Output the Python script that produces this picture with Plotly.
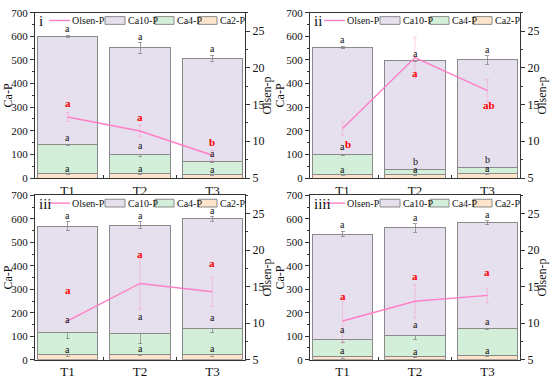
import plotly.graph_objects as go

categories = ["T1", "T2", "T3"]
panel_names = ["i", "ii", "iii", "iiii"]

# ---- panel i ----
ca2_i = [18, 17, 15]
ca4_i = [124, 83, 55]
ca10_i = [458, 451, 437]
olsen_i = [13.3, 11.4, 8.1]
ca2_err_i = [3, 3, 3]
ca4_err_i = [4, 10, 5]
ca10_err_i = [4, 22, 12]
olsen_err_i = [0.6, 0.8, 0.7]
ca2_let_i = ["a", "a", "a"]
ca4_let_i = ["a", "a", "a"]
ca10_let_i = ["a", "a", "a"]
olsen_let_i = ["a", "a", "b"]
olsen_let_y_i = [15.2, 13.3, 9.95]

# ---- panel ii ----
ca2_ii = [15, 15, 18]
ca4_ii = [85, 22, 27]
ca10_ii = [453, 459, 455]
olsen_ii = [11.75, 21.4, 16.9]
ca2_err_ii = [3, 3, 3]
ca4_err_ii = [6, 4, 4]
ca10_err_ii = [5, 3, 18]
olsen_err_ii = [0.9, 2.8, 1.5]
ca2_let_ii = ["a", "a", "a"]
ca4_let_ii = ["a", "b", "b"]
ca10_let_ii = ["a", "a", "a"]
olsen_let_ii = ["b", "a", "ab"]
olsen_let_y_ii = [9.65, 19.35, 14.9]

# ---- panel iii ----
ca2_iii = [20, 23, 22]
ca4_iii = [97, 89, 112]
ca10_iii = [452, 461, 466]
olsen_iii = [10.33, 15.44, 14.3]
ca2_err_iii = [5, 5, 8]
ca4_err_iii = [27, 45, 20]
ca10_err_iii = [18, 15, 10]
olsen_err_iii = [0.3, 3.5, 2.0]
ca2_let_iii = ["a", "a", "a"]
ca4_let_iii = ["a", "a", "a"]
ca10_let_iii = ["a", "a", "a"]
olsen_let_iii = ["a", "a", "a"]
olsen_let_y_iii = [14.5, 19.5, 18.3]

# ---- panel iiii ----
ca2_iv = [12, 13, 17]
ca4_iv = [76, 91, 115]
ca10_iv = [447, 458, 451]
olsen_iv = [10.3, 13.0, 13.8]
ca2_err_iv = [7, 4, 4]
ca4_err_iv = [13, 20, 5]
ca10_err_iv = [12, 18, 8]
olsen_err_iv = [3.0, 2.3, 1.0]
ca2_let_iv = ["a", "a", "a"]
ca4_let_iv = ["a", "a", "a"]
ca10_let_iv = ["a", "a", "a"]
olsen_let_iv = ["a", "a", "a"]
olsen_let_y_iv = [13.7, 16.4, 17.05]

panels = [
    (ca2_i, ca4_i, ca10_i, olsen_i, ca2_err_i, ca4_err_i, ca10_err_i, olsen_err_i,
     ca2_let_i, ca4_let_i, ca10_let_i, olsen_let_i, olsen_let_y_i),
    (ca2_ii, ca4_ii, ca10_ii, olsen_ii, ca2_err_ii, ca4_err_ii, ca10_err_ii, olsen_err_ii,
     ca2_let_ii, ca4_let_ii, ca10_let_ii, olsen_let_ii, olsen_let_y_ii),
    (ca2_iii, ca4_iii, ca10_iii, olsen_iii, ca2_err_iii, ca4_err_iii, ca10_err_iii, olsen_err_iii,
     ca2_let_iii, ca4_let_iii, ca10_let_iii, olsen_let_iii, olsen_let_y_iii),
    (ca2_iv, ca4_iv, ca10_iv, olsen_iv, ca2_err_iv, ca4_err_iv, ca10_err_iv, olsen_err_iv,
     ca2_let_iv, ca4_let_iv, ca10_let_iv, olsen_let_iv, olsen_let_y_iv),
]

W, H = 550, 386
FONT = "Liberation Serif"
C_CA10 = "#E6DFEE"
C_CA4 = "#D4EFD9"
C_CA2 = "#FDE4CB"
C_OLSEN = "#FF7FC6"
C_EDGE = "#8A8A8A"
C_AXIS = "#333333"

# pixel boxes of the four plot areas: left, right, top, bottom
boxes = [(35, 245, 7, 178), (310, 520, 7, 178), (35, 245, 196, 366), (310, 520, 196, 366)]
# horizontal pixel offset of the left title from the left axis
ca_title_off = [27, 30, 27, 30]
# horizontal pixel nudges of the red letters
red_dx = [[0, 0, 0], [5, 0, 2], [0, 0, 0], [0, 0, 0]]


def px(x):
    return x / W


def py(y):
    return 1 - y / H


fig = go.Figure()
layout = dict(
    width=W, height=H, margin=dict(l=0, r=0, t=0, b=0),
    paper_bgcolor="white", plot_bgcolor="white",
    barmode="stack", showlegend=False,
    font=dict(family=FONT, size=11, color="#222"),
)
annotations = []
shapes = []

for k, (pdata, box) in enumerate(zip(panels, boxes), start=1):
    (ca2, ca4, ca10, ols, e2, e4, e10, eo, l2, l4, l10, lo, loy) = pdata
    xa = "x" if k == 1 else f"x{k}"
    ya = "y" if k == 1 else f"y{k}"
    ya2 = f"y{k + 4}"
    L, R, T, B = box

    for vals, errs, col in ((ca2, e2, C_CA2), (ca4, e4, C_CA4), (ca10, e10, C_CA10)):
        fig.add_trace(go.Bar(
            x=categories, y=vals, width=0.83,
            marker=dict(color=col, line=dict(color=C_EDGE, width=1)),
            error_y=dict(type="data", array=errs, color="#888", thickness=0.8, width=2),
            xaxis=xa, yaxis=ya,
        ))
    fig.add_trace(go.Scatter(
        x=categories, y=ols, mode="lines",
        line=dict(color=C_OLSEN, width=1.4),
        error_y=dict(type="data", array=eo, color="rgba(255,140,200,0.5)", thickness=0.8, width=2),
        xaxis=xa, yaxis=ya2,
    ))

    xkey = "xaxis" if k == 1 else f"xaxis{k}"
    ykey = "yaxis" if k == 1 else f"yaxis{k}"
    y2key = f"yaxis{k + 4}"
    layout[xkey] = dict(
        domain=[px(L), px(R)], anchor=ya, type="category", range=[-0.45, 2.45],
        showline=True, linecolor=C_AXIS, linewidth=1, mirror=True,
        ticks="inside", tickson="boundaries", ticklen=3, tickcolor=C_AXIS,
        tickfont=dict(family=FONT, size=13, color="#111"), showgrid=False,
    )
    layout[ykey] = dict(
        domain=[py(B), py(T)], anchor=xa, range=[0, 700], dtick=100,
        showline=True, linecolor=C_AXIS, linewidth=1,
        ticks="outside", ticklen=4, tickcolor=C_AXIS,
        minor=dict(ticks="outside", ticklen=2, dtick=50, tickcolor=C_AXIS),
        tickfont=dict(family=FONT, size=11, color="#111"),
        showgrid=False, zeroline=False,
    )
    layout[y2key] = dict(
        overlaying=ya, anchor=xa, side="right", range=[5, 27.5], tick0=5, dtick=5,
        showline=True, linecolor=C_AXIS, linewidth=1,
        ticks="outside", ticklen=4, tickcolor=C_AXIS,
        minor=dict(ticks="outside", ticklen=2, dtick=2.5, tickcolor=C_AXIS),
        tickfont=dict(family=FONT, size=12, color="#111"),
        showgrid=False, zeroline=False,
    )

    # axis titles
    yc = (T + B) / 2
    annotations.append(dict(x=px(L - ca_title_off[k - 1]), y=py(yc), xref="paper", yref="paper",
                            text="Ca-P", textangle=-90, showarrow=False,
                            xanchor="center", yanchor="middle",
                            font=dict(family=FONT, size=12, color="#111")))
    annotations.append(dict(x=px(R + 22), y=py(yc), xref="paper", yref="paper", text="Olsen-p",
                            textangle=-90, showarrow=False, xanchor="center", yanchor="middle",
                            font=dict(family=FONT, size=12, color="#111")))

    # black significance letters above each segment
    tops2 = ca2
    tops4 = [a + b for a, b in zip(ca2, ca4)]
    tops10 = [a + b for a, b in zip(tops4, ca10)]
    for tops, errs, lets, ysh in ((tops2, e2, l2, -3), (tops4, e4, l4, -1), (tops10, e10, l10, -1)):
        for j, c in enumerate(categories):
            annotations.append(dict(
                x=c, y=tops[j] + errs[j], xref=xa, yref=ya, text=lets[j],
                showarrow=False, yanchor="bottom", yshift=ysh,
                font=dict(family=FONT, size=10, color="#111"),
            ))
    # red letters for Olsen-P
    for j, c in enumerate(categories):
        annotations.append(dict(
            x=c, y=loy[j], xref=xa, yref=ya2, text=f"<b>{lo[j]}</b>",
            showarrow=False, yanchor="middle", xshift=red_dx[k - 1][j],
            font=dict(family=FONT, size=11, color="#FF0000"),
        ))

    # panel label
    annotations.append(dict(
        x=px(L + 2), y=py(T + 9), xref="paper", yref="paper", text=panel_names[k - 1],
        showarrow=False, xanchor="left", yanchor="middle",
        font=dict(family=FONT, size=15, color="#111"),
    ))

    # manual legend row
    ly = T + 8
    shapes.append(dict(type="line", xref="paper", yref="paper",
                       x0=px(L + 14), x1=px(L + 35), y0=py(ly), y1=py(ly),
                       line=dict(color=C_OLSEN, width=1.4)))
    annotations.append(dict(x=px(L + 35), y=py(ly), xref="paper", yref="paper",
                            text="Olsen-P", showarrow=False, xanchor="left", yanchor="middle",
                            font=dict(family=FONT, size=10, color="#111")))
    for (bx0, bx1, tx, name, col) in ((70, 90, 91, "Ca10-P", C_CA10),
                                      (120, 139, 140, "Ca4-P", C_CA4),
                                      (163, 182, 183, "Ca2-P", C_CA2)):
        shapes.append(dict(type="rect", xref="paper", yref="paper",
                           x0=px(L + bx0), x1=px(L + bx1), y0=py(ly - 4), y1=py(ly + 4),
                           fillcolor=col, line=dict(color=C_EDGE, width=1)))
        annotations.append(dict(x=px(L + tx), y=py(ly), xref="paper", yref="paper",
                                text=name, showarrow=False, xanchor="left", yanchor="middle",
                                font=dict(family=FONT, size=10, color="#111")))

layout["annotations"] = annotations
layout["shapes"] = shapes
fig.update_layout(**layout)
fig.write_html("out.html", config={"displayModeBar": False},
               post_script="document.body.style.margin='0px';")
